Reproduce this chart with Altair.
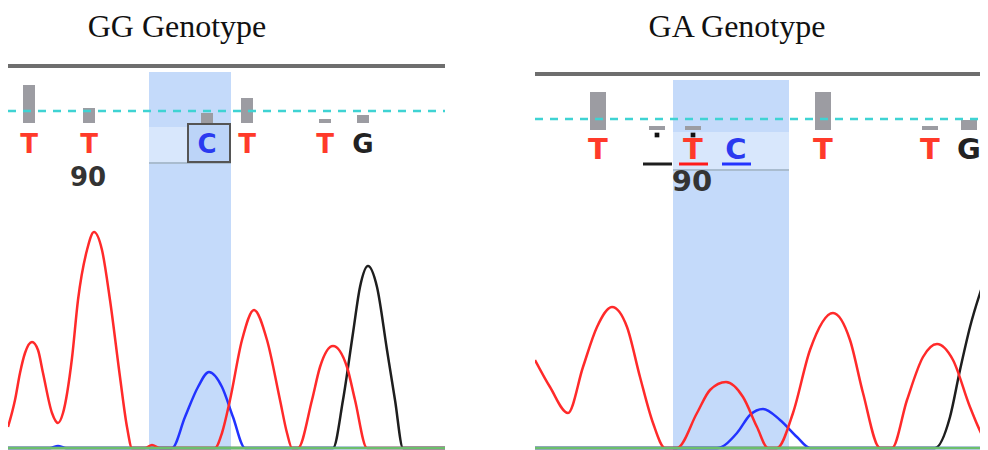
import altair as alt
import pandas as pd

# ---------------- data ----------------
# Left panel: GG genotype (x = scan position, y = signal intensity)
GG_TITLE = "GG Genotype"
GG_T_X = [8, 15, 20, 25, 32, 38, 43, 52, 58, 63, 72, 78, 87, 94, 102, 110, 120, 127, 132, 145, 152, 160,
          215, 222, 230, 242, 254, 267, 280, 287, 292, 298, 312, 320, 333, 347, 355, 367, 445]
GG_T_Y = [21, 48, 75, 95, 106, 98, 75, 35, 25, 35, 90, 148, 198, 216, 198, 148, 71, 21, 0, 0, 3, 0,
          0, 15, 48, 108, 138, 108, 48, 15, 0, 0, 48, 81, 102, 81, 48, 0, 0]
GG_C_X = [8, 50, 58, 66, 172, 185, 198, 209, 222, 233, 245, 445]
GG_C_Y = [0, 0, 2, 0, 0, 31, 61, 76, 61, 31, 0, 0]
GG_G_X = [8, 333, 343, 353, 360, 368, 377, 387, 395, 403, 445]
GG_G_Y = [0, 0, 48, 115, 161, 182, 161, 98, 48, 0, 0]
GG_A_X = [8, 445]
GG_A_Y = [0, 0]
GG_CALLS = ["T", "T", "C", "T", "T", "G"]
GG_CALL_POS = [29, 89, 207, 247, 325, 363]
GG_QUAL = [38, 15, 10, 25, 4, 8]
GG_TICK_LABEL = "90"
GG_TICK_POS = 88

# Right panel: GA genotype
GA_TITLE = "GA Genotype"
GA_T_X = [535, 550, 568, 583, 597, 612, 627, 640, 653, 665, 677, 697, 710, 726, 743, 757, 768, 777,
          793, 810, 833, 850, 863, 880, 892, 907, 923, 937, 953, 970, 987, 995]
GA_T_Y = [88, 61, 35, 81, 121, 141, 121, 71, 25, 0, 0, 35, 58, 66, 51, 21, 0, 0,
          35, 98, 135, 108, 55, 0, 0, 48, 91, 104, 88, 41, 5, 0]
GA_C_X = [535, 717, 737, 750, 763, 780, 797, 810, 995]
GA_C_Y = [0, 0, 15, 33, 39, 28, 11, 0, 0]
GA_G_X = [535, 935, 950, 960, 970, 987, 995]
GA_G_Y = [0, 0, 31, 78, 121, 176, 200]
GA_A_X = [535, 995]
GA_A_Y = [0, 0]
GA_CALLS = ["T", "_", "T", "C", "T", "T", "G"]
GA_CALL_POS = [598, 657, 693, 736, 823, 930, 969]
GA_QUAL = [38, 4, 4, 0, 38, 4, 10]
GA_UNDERLINED = [False, True, True, True, False, False, False]
GA_DOTTED = [False, True, True, False, False, False, False]
GA_TICK_LABEL = "90"
GA_TICK_POS = 692

BASE_COLORS = {"T": "#ff2a2a", "C": "#2233ff", "G": "#1e1e1e", "A": "#6cbf6c", "_": "#1e1e1e"}
TEXT_COLORS = {"T": "#ff3a2a", "C": "#2a3af0", "G": "#222222", "_": "#222222"}


def panel(cfg):
    x0, x1 = cfg["xdom"]
    X = lambda f="x": alt.X(f"{f}:Q", scale=alt.Scale(domain=[x0, x1], nice=False, zero=False), axis=None)
    Y = lambda f="y": alt.Y(f"{f}:Q", scale=alt.Scale(domain=[-2, 440], nice=False, zero=False), axis=None)
    layers = []

    # highlighted column
    hl = pd.DataFrame({"x": [cfg["hl"][0]], "x2": [cfg["hl"][1]], "y": [-2], "y2": [cfg["hl_top"]]})
    layers.append(alt.Chart(hl).mark_rect(color="#c4dafa", clip=True).encode(
        x=X(), x2="x2", y=Y(), y2="y2"))
    band = pd.DataFrame({"x": [cfg["hl"][0]], "x2": [cfg["hl"][1]], "y": [cfg["band"][0]], "y2": [cfg["band"][1]]})
    layers.append(alt.Chart(band).mark_rect(color="#d8e7fc", clip=True).encode(
        x=X(), x2="x2", y=Y(), y2="y2"))
    layers.append(alt.Chart(band).mark_rule(color="#a9bccf", strokeWidth=2, clip=True).encode(
        x=X(), x2="x2", y=Y()))

    # top border line
    top = pd.DataFrame({"x": [x0], "x2": [x1 + 20], "y": [cfg["top"]]})
    layers.append(alt.Chart(top).mark_rule(color="#6e6e6e", strokeWidth=4, clip=True).encode(
        x=X(), x2="x2", y=Y()))

    # quality bars
    q = pd.DataFrame({"x": cfg["pos"], "y": [cfg["qbase"]] * len(cfg["pos"]),
                      "y2": [cfg["qbase"] + v for v in cfg["qual"]], "q": cfg["qual"]})
    q = q[q["q"] > 0]
    layers.append(alt.Chart(q).mark_rule(color="#9c9ca2", strokeWidth=cfg["barw"], strokeCap="butt",
                                         clip=True).encode(x=X(), y=Y(), y2="y2"))

    # dashed threshold line
    dash = pd.DataFrame({"x": [x0], "x2": [x1 + 20], "y": [cfg["dash"]]})
    layers.append(alt.Chart(dash).mark_rule(color="#3fd3d3", strokeWidth=2.5, strokeDash=[8, 7],
                                            clip=True).encode(x=X(), x2="x2", y=Y()))

    # optional box around a call
    if cfg.get("box"):
        bx = pd.DataFrame({"x": [cfg["box"][0]], "x2": [cfg["box"][1]], "y": [cfg["box"][2]], "y2": [cfg["box"][3]]})
        layers.append(alt.Chart(bx).mark_rect(fill="#bcd4f8", stroke="#555555", strokeWidth=2).encode(
            x=X(), x2="x2", y=Y(), y2="y2"))

    # base call letters
    calls = pd.DataFrame({"x": cfg["pos"], "y": [cfg["letter_y"]] * len(cfg["pos"]), "base": cfg["calls"],
                          "col": [TEXT_COLORS[b] for b in cfg["calls"]]})
    calls = calls[calls["base"] != "_"]
    layers.append(alt.Chart(calls).mark_text(font="DejaVu Sans", fontWeight="bold", fontSize=cfg["fs"],
                                             align="center", baseline="middle", clip=True).encode(
        x=X(), y=Y(), text="base:N", color=alt.Color("col:N", scale=None)))

    # underlines and dots
    if cfg.get("underlined"):
        ul = pd.DataFrame({"x": cfg["pos"], "base": cfg["calls"], "u": cfg["underlined"], "d": cfg["dotted"]})
        u = ul[ul["u"]].copy()
        u["x1"] = u["x"] - 14
        u["x2"] = u["x"] + 15
        u["y"] = cfg["ul_y"]
        u["col"] = [BASE_COLORS[b] if b != "T" else "#ff1a1a" for b in u["base"]]
        layers.append(alt.Chart(u).mark_rule(strokeWidth=3).encode(
            x=X("x1"), x2="x2", y=Y(), color=alt.Color("col:N", scale=None)))
        d = ul[ul["d"]].copy()
        d["y"] = cfg["dot_y"]
        layers.append(alt.Chart(d).mark_square(size=22, color="#111111", opacity=1, filled=True).encode(
            x=X(), y=Y()))

    # position label
    tl = pd.DataFrame({"x": [cfg["tick_pos"]], "y": [cfg["tick_y"]], "t": [cfg["tick_label"]]})
    layers.append(alt.Chart(tl).mark_text(font="DejaVu Sans", fontWeight="bold", fontSize=cfg["fs"],
                                          color="#333333", align="center", baseline="middle").encode(
        x=X(), y=Y(), text="t:N"))

    # traces (baseline trace A drawn last, on top)
    for base, xs, ys in cfg["traces"]:
        df = pd.DataFrame({"x": xs, "y": ys})
        layers.append(alt.Chart(df).mark_line(color=BASE_COLORS[base], strokeWidth=2.5,
                                              interpolate="monotone", clip=True).encode(x=X(), y=Y()))

    # title
    tt = pd.DataFrame({"x": [cfg["title_x"]], "y": [411], "t": [cfg["title"]]})
    layers.append(alt.Chart(tt).mark_text(font="Liberation Serif", fontSize=32, color="#111111",
                                          align="center", baseline="alphabetic").encode(
        x=X(), y=Y(), text="t:N"))

    return alt.layer(*layers).properties(width=cfg["w"], height=442)


left = panel(dict(
    xdom=(8, 445), w=437, hl=(149, 231), hl_top=376, band=(285, 321), top=382, qbase=325, dash=337,
    pos=GG_CALL_POS, qual=GG_QUAL, calls=GG_CALLS, barw=12, letter_y=303, fs=26,
    box=(188, 230, 286, 324), tick_pos=GG_TICK_POS, tick_y=270, tick_label=GG_TICK_LABEL,
    traces=[("G", GG_G_X, GG_G_Y), ("C", GG_C_X, GG_C_Y), ("T", GG_T_X, GG_T_Y), ("A", GG_A_X, GG_A_Y)],
    title=GG_TITLE, title_x=177))

right = panel(dict(
    xdom=(535, 980), w=445, hl=(673, 789), hl_top=368, band=(278, 316), top=374, qbase=318, dash=329,
    pos=GA_CALL_POS, qual=GA_QUAL, calls=GA_CALLS, barw=16, letter_y=298, fs=29,
    underlined=GA_UNDERLINED, dotted=GA_DOTTED, ul_y=284, dot_y=313,
    tick_pos=GA_TICK_POS, tick_y=266, tick_label=GA_TICK_LABEL,
    traces=[("G", GA_G_X, GA_G_Y), ("C", GA_C_X, GA_C_Y), ("T", GA_T_X, GA_T_Y), ("A", GA_A_X, GA_A_Y)],
    title=GA_TITLE, title_x=737))

chart = alt.hconcat(left, right, spacing=90).properties(padding=0).configure_view(stroke=None)
chart.save("out.html", embed_options={"renderer": "svg", "actions": False})
